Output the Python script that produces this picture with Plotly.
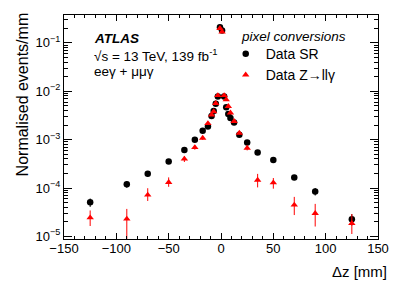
import plotly.graph_objects as go

# ---- data ----
dz_bins = [-125, -90, -70, -50, -35, -25, -17.5, -12.5, -9, -7, -5, -3, -1,
           1, 3, 5, 7, 9, 12.5, 17.5, 25, 35, 50, 70, 90, 125]

sr_values = [5.07e-5, 1.19e-4, 1.97e-4, 3.55e-4, 6.1e-4, 1.0e-3, 1.53e-3, 1.88e-3,
             3.1e-3, 3.9e-3, 5.5e-3, 7.8e-3, 0.21,
             0.18, 7.8e-3, 4.7e-3, 3.4e-3, 2.8e-3, 2.27e-3, 1.27e-3, 8.75e-4,
             5.45e-4, 3.78e-4, 1.66e-4, 8.5e-5, 2.27e-5]
sr_err = [1.0e-5, 1.8e-5, 2.5e-5, 3.0e-5, 4e-5, 5e-5, 6e-5, 7e-5, 1e-4, 1.1e-4,
          1.4e-4, 1.8e-4, 2e-3, 2e-3, 1.8e-4, 1.3e-4, 1.1e-4, 1e-4, 8e-5, 6e-5,
          5e-5, 4e-5, 3e-5, 2e-5, 1.5e-5, 6e-6]

z_values = [2.44e-5, 2.3e-5, 7.2e-5, 1.31e-4, 4.0e-4, 6.9e-4, 1.08e-3, 2.17e-3,
            3.25e-3, 3.8e-3, 5.66e-3, 8.2e-3, 0.20,
            0.17, 8.2e-3, 6.7e-3, 4.9e-3, 3.6e-3, 2.4e-3, 1.37e-3, 6.7e-4,
            1.46e-4, 1.29e-4, 4.46e-5, 3.0e-5, 1.86e-5]
z_err_up = [1.0e-5, 1.4e-5, 2.7e-5, 3.5e-5, 6e-5, 8e-5, 1e-4, 1.4e-4, 1.8e-4, 2e-4,
            2.5e-4, 3e-4, 4e-3, 4e-3, 3e-4, 2.8e-4, 2.2e-4, 1.8e-4, 1.4e-4, 1e-4,
            8e-5, 5e-5, 3.2e-5, 2.1e-5, 1.7e-5, 1.04e-5]
z_err_dn = [8e-6, 1.5e-5, 1.8e-5, 2.5e-5, 5.5e-5, 7e-5, 9e-5, 1.3e-4, 1.7e-4, 1.9e-4,
            2.4e-4, 2.9e-4, 4e-3, 4e-3, 2.9e-4, 2.7e-4, 2.1e-4, 1.7e-4, 1.3e-4, 9e-5,
            7e-5, 4.3e-5, 3.2e-5, 1.7e-5, 1.4e-5, 7.4e-6]

x_ticks = [-150, -100, -50, 0, 50, 100, 150]
x_ticklabels = ["\u2212150", "\u2212100", "\u221250", "0", "50", "100", "150"]
y_ticks = [1e-5, 1e-4, 1e-3, 1e-2, 1e-1]
y_ticklabels = ["10<sup>\u22125</sup>", "10<sup>\u22124</sup>", "10<sup>\u22123</sup>",
                "10<sup>\u22122</sup>", "10<sup>\u22121</sup>"]
y_minor = [m * 10.0 ** e for e in range(-6, 0) for m in range(2, 10)]

FONT = "Liberation Sans, Arial, Helvetica, sans-serif"

fig = go.Figure()
fig.add_trace(go.Scatter(
    x=dz_bins, y=sr_values, mode="markers", name="Data SR",
    marker=dict(symbol="circle", size=6.5, color="black"),
    error_y=dict(type="data", array=sr_err, color="black", thickness=1, width=0),
))
fig.add_trace(go.Scatter(
    x=dz_bins, y=z_values, mode="markers", name="Data Z\u2192ll\u03b3",
    marker=dict(symbol="triangle-up", size=6.5, color="#ff0000"),
    error_y=dict(type="data", array=z_err_up, arrayminus=z_err_dn,
                 color="#ff0000", thickness=1, width=0),
))

fig.update_layout(
    width=399, height=287,
    margin=dict(l=64, r=21, t=15, b=48),
    paper_bgcolor="white", plot_bgcolor="white",
    font=dict(family=FONT, size=14, color="black"),
    showlegend=True,
    legend=dict(x=0.515, y=0.897, xanchor="left", yanchor="top",
                bgcolor="rgba(0,0,0,0)", font=dict(size=14),
                tracegroupgap=0, itemwidth=30),
)

fig.update_xaxes(
    range=[-150, 150], tickmode="array", tickvals=x_ticks, ticktext=x_ticklabels,
    ticks="inside", ticklen=6, tickwidth=1, tickcolor="black",
    showline=True, linecolor="black", linewidth=1, mirror="ticks",
    showgrid=False, zeroline=False, automargin=False, ticklabelstandoff=-3,
    minor=dict(ticks="inside", ticklen=3, dtick=10, tick0=0, tickcolor="black", showgrid=False),
    tickfont=dict(family=FONT, size=13, color="black"),
)
fig.update_yaxes(
    type="log", range=[-5.054, -0.4225],
    tickmode="array", tickvals=y_ticks, ticktext=y_ticklabels,
    ticks="inside", ticklen=8, tickwidth=1, tickcolor="black",
    showline=True, linecolor="black", linewidth=1, mirror="ticks",
    showgrid=False, zeroline=False, automargin=False,
    minor=dict(ticks="inside", ticklen=4, tickmode="array", tickvals=y_minor,
               tickcolor="black", showgrid=False),
    tickfont=dict(family=FONT, size=13, color="black"),
)

annotations = [
    dict(text="<b><i>ATLAS</i></b>", x=0.088, y=0.893),
    dict(text="\u221as = 13 TeV, 139 fb<sup>-1</sup>", x=0.088, y=0.821),
    dict(text="ee\u03b3 + \u03bc\u03bc\u03b3", x=0.088, y=0.748),
    dict(text="<i>pixel conversions</i>", x=0.558, y=0.906),
]
for a in annotations:
    fig.add_annotation(xref="paper", yref="paper", xanchor="left", yanchor="middle",
                       showarrow=False, font=dict(size=13.5), **a)

fig.add_annotation(text="Normalised events/mm", xref="paper", yref="paper",
                   x=-0.131, y=0.645, xanchor="center", yanchor="middle",
                   textangle=-90, showarrow=False, font=dict(size=16))
fig.add_annotation(text="\u0394z [mm]", xref="paper", yref="paper",
                   x=1.035, y=-0.143, xanchor="right", yanchor="middle",
                   showarrow=False, font=dict(size=15))

fig.write_html("out.html", config={"displayModeBar": False},
               post_script="document.body.style.margin='0';document.body.style.overflow='hidden';")
